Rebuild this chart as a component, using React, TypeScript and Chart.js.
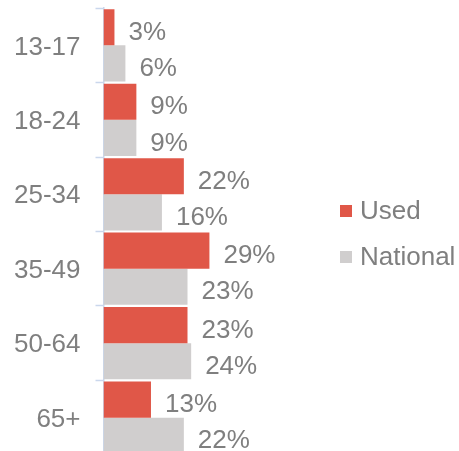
import React, { useEffect, useRef } from "react";
import { Chart, registerables } from "chart.js";

Chart.register(...registerables);

const categories = ["13-17", "18-24", "25-34", "35-49", "50-64", "65+"];
const usedValues = [3, 9, 22, 29, 23, 13];
const nationalValues = [6, 9, 16, 23, 24, 22];
const seriesNames = ["Used", "National"];

const RED = "#E05748";
const GRAY = "#D0CECE";
const TEXT = "#7F7F7F";
const AXIS = "#CAD7EC";
const FONT = '"Liberation Sans", Arial, sans-serif';
const SHIFT = 7; // canvas is shifted up by this many px
const CANVAS_H = 477;

const labelPlugin = {
  id: "barLabels",
  afterDatasetsDraw(chart: any) {
    const ctx = chart.ctx;
    ctx.save();
    ctx.font = "26px " + FONT;
    ctx.fillStyle = TEXT;
    ctx.textAlign = "left";
    ctx.textBaseline = "alphabetic";
    chart.data.datasets.forEach((ds: any, di: number) => {
      const meta = chart.getDatasetMeta(di);
      meta.data.forEach((el: any, i: number) => {
        ctx.fillText(ds.data[i] + "%", el.x + 14, el.y + 12.7);
      });
    });
    ctx.restore();
  },
};

const legendPlugin = {
  id: "sideLegend",
  afterDraw(chart: any) {
    const ctx = chart.ctx;
    ctx.save();
    ctx.font = "26px " + FONT;
    ctx.textAlign = "left";
    ctx.textBaseline = "alphabetic";
    const baselines = [219, 265];
    chart.data.datasets.forEach((ds: any, di: number) => {
      const base = baselines[di] + SHIFT;
      ctx.fillStyle = ds.backgroundColor;
      ctx.fillRect(340, base - 14, 12, 12);
      ctx.fillStyle = TEXT;
      ctx.fillText(ds.label, 360, base);
    });
    ctx.restore();
  },
};

export default function App() {
  const ref = useRef<HTMLCanvasElement>(null);
  useEffect(() => {
    if (!ref.current) return;
    Chart.defaults.font.family = FONT;
    const chart = new Chart(ref.current, {
      type: "bar",
      data: {
        labels: categories,
        datasets: [
          {
            label: seriesNames[0],
            data: usedValues,
            backgroundColor: RED,
            borderWidth: 0,
            categoryPercentage: 0.97,
            barPercentage: 1,
          },
          {
            label: seriesNames[1],
            data: nationalValues,
            backgroundColor: GRAY,
            borderWidth: 0,
            categoryPercentage: 0.97,
            barPercentage: 1,
          },
        ],
      },
      options: {
        indexAxis: "y",
        animation: false,
        responsive: false,
        maintainAspectRatio: false,
        layout: { padding: { left: -1, right: 140, top: 0, bottom: 0 } },
        scales: {
          x: { display: false, min: 0, max: 59 },
          y: {
            border: { display: true, color: AXIS, width: 1.5 },
            grid: {
              drawOnChartArea: false,
              drawTicks: true,
              tickLength: 8,
              tickColor: AXIS,
              tickWidth: 1.5,
              offset: true,
            },
            ticks: {
              color: TEXT,
              padding: 15,
              labelOffset: 2,
              font: { size: 26, lineHeight: 0.01 },
            },
          },
        },
        plugins: {
          legend: { display: false },
          tooltip: { enabled: false },
        },
      },
      plugins: [labelPlugin, legendPlugin],
    });
    return () => chart.destroy();
  }, []);
  return (
    <div
      style={{
        position: "fixed",
        left: 0,
        top: 0,
        width: 459,
        height: 451,
        overflow: "hidden",
        background: "#fff",
      }}
    >
      <canvas
        ref={ref}
        width={459}
        height={CANVAS_H}
        style={{ position: "absolute", left: 0, top: -SHIFT, width: 459, height: CANVAS_H }}
      />
    </div>
  );
}
